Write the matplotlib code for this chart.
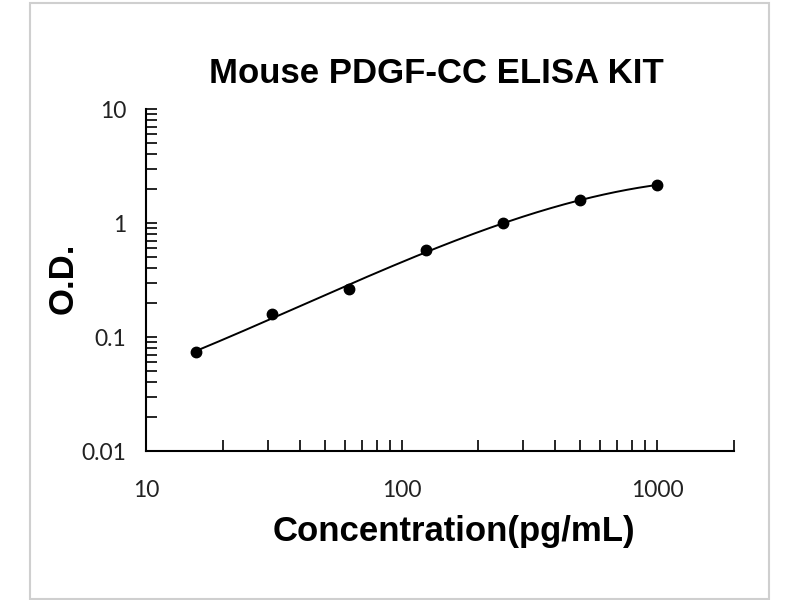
import numpy as np
import matplotlib
matplotlib.use("Agg")
import matplotlib.pyplot as plt
from matplotlib.ticker import LogLocator, FixedLocator, NullFormatter
from matplotlib.patches import Rectangle

# Data
concentration = [15.625, 31.25, 62.5, 125, 250, 500, 1000]
od = [0.0735, 0.158, 0.264, 0.574, 1.0, 1.59, 2.15]
x_ticks = [10, 100, 1000]
x_tick_labels = ["10", "100", "1000"]
y_ticks = [0.01, 0.1, 1, 10]
y_tick_labels = ["0.01", "0.1", "1", "10"]
title = "Mouse PDGF-CC ELISA KIT"
xlabel = "Concentration(pg/mL)"
ylabel = "O.D."

fig = plt.figure(figsize=(8, 6), dpi=100)
# light frame around figure
fig.patches.append(Rectangle((30/800, 1-599/600), (769-30)/800, (599-3)/600,
                             transform=fig.transFigure, fill=False,
                             edgecolor="#cfcfcf", linewidth=1.5))

ax = fig.add_axes([146/800, 1-451/600, (734-146)/800, (451-109)/600])
ax.set_xscale("log")
ax.set_yscale("log")
ax.set_xlim(10, 2000)
ax.set_ylim(0.01, 10)

# fitted curve (polynomial in log-log space computed from the data)
lx = np.log10(concentration)
ly = np.log10(od)
coef = np.polyfit(lx, ly, 3)
xs = np.linspace(lx[0], lx[-1], 200)
ax.plot(10**xs, 10**np.polyval(coef, xs), color="black", linewidth=1.4)
ax.plot(concentration, od, "o", color="black", markersize=7.5)

for s in ["top", "right"]:
    ax.spines[s].set_visible(False)
for s in ["left", "bottom"]:
    ax.spines[s].set_linewidth(1.5)

ax.xaxis.set_major_locator(FixedLocator(x_ticks))
ax.set_xticklabels(x_tick_labels)
ax.yaxis.set_major_locator(FixedLocator(y_ticks))
ax.set_yticklabels(y_tick_labels)
ax.xaxis.set_minor_locator(LogLocator(base=10, subs=np.arange(2, 10), numticks=20))
ax.yaxis.set_minor_locator(LogLocator(base=10, subs=np.arange(2, 10), numticks=20))
ax.xaxis.set_minor_formatter(NullFormatter())
ax.yaxis.set_minor_formatter(NullFormatter())

ax.tick_params(axis="both", which="both", direction="in", width=1.2, length=8,
               labelsize=16.5)
ax.tick_params(axis="x", which="both", pad=21)
ax.tick_params(axis="y", which="both", pad=14)
for lab in ax.get_xticklabels() + ax.get_yticklabels():
    lab.set_family(["Lato", "DejaVu Sans"])
    lab.set_color("#222222")

fam = ["Liberation Sans", "DejaVu Sans"]
fig.text(436/800, 1-83/600, title, ha="center", va="baseline",
         fontsize=25, fontweight="bold", family=fam)
fig.text(454/800, 1-541/600, xlabel, ha="center", va="baseline",
         fontsize=25, fontweight="bold", family=fam)
fig.text(73/800, 1-278/600, ylabel, ha="center", va="baseline", rotation=90,
         rotation_mode="anchor", fontsize=25, fontweight="bold", family=fam)

fig.savefig("out.png", dpi=100)
